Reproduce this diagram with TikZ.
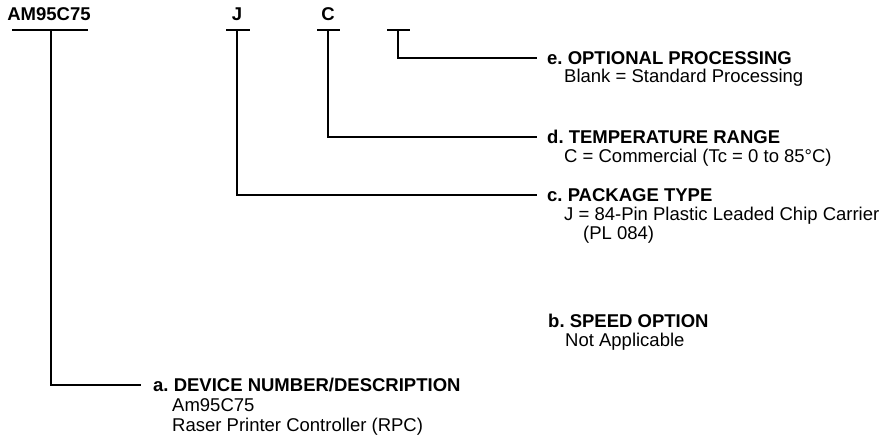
\documentclass[tikz,border=0pt]{standalone}
\usepackage{fontspec}
\setmainfont{Liberation Sans}
\frenchspacing
\begin{document}
\begin{tikzpicture}[x=1pt,y=-1pt,
  txt/.style={inner sep=0pt, anchor=west, text height=13.2pt, text depth=0pt, font=\fontsize{18.5}{19}\selectfont},
  head/.style={txt, font=\fontsize{18.5}{19}\selectfont\bfseries},
  lbl/.style={inner sep=0pt, anchor=center, text height=13.2pt, text depth=0pt, font=\fontsize{18.5}{19}\selectfont\bfseries},
  bar/.style={line width=2.2pt},
  conn/.style={line width=1.7pt}]
\useasboundingbox (0,0) rectangle (889,437);

% top labels
\node[lbl] (lAM) at (49,14) {AM95C75};
\node[lbl] (lJ) at (237,14) {J};
\node[lbl] (lC) at (328,14) {C};

% bar positions
\coordinate (tA) at (51,30);
\coordinate (tJ) at (237,30);
\coordinate (tC) at (328,30);
\coordinate (tE) at (398,30);

% headings and descriptions
\node[head] (he) at (547,58) {e. OPTIONAL PROCESSING};
\node[txt] (be) at (564,76) {Blank = Standard Processing};

\node[head] (hd) at (547,137) {d. TEMPERATURE RANGE};
\node[txt] (bd) at (564,156) {C = Commercial (Tc = 0 to 85°C)};

\node[head] (hc) at (547,195) {c. PACKAGE TYPE};
\node[txt] (bc1) at (564,214) {J = 84-Pin Plastic Leaded Chip Carrier};
\node[txt] (bc2) at (583,233) {(PL 084)};

\node[head] (hb) at (548,321) {b. SPEED OPTION};
\node[txt] (bb) at (565,340) {Not Applicable};

\node[head] (ha) at (153,385) {a. DEVICE NUMBER/DESCRIPTION};
\node[txt] (ba1) at (172,405) {Am95C75};
\node[txt] (ba2) at (172,425) {Raser Printer Controller (RPC)};

% bars
\draw[bar] (12,30) -- (88,30);
\draw[bar] ([xshift=-11pt]tJ) -- ([xshift=13pt]tJ);
\draw[bar] ([xshift=-11pt]tC) -- ([xshift=12pt]tC);
\draw[bar] ([xshift=-11pt]tE) -- ([xshift=12pt]tE);

% connectors
\draw[conn] (tA) |- ([xshift=-12pt]ha.west);
\draw[conn] (tJ) |- ([xshift=-10pt]hc.west);
\draw[conn] (tC) |- ([xshift=-10pt]hd.west);
\draw[conn] (tE) |- ([xshift=-10pt]he.west);
\end{tikzpicture}
\end{document}
